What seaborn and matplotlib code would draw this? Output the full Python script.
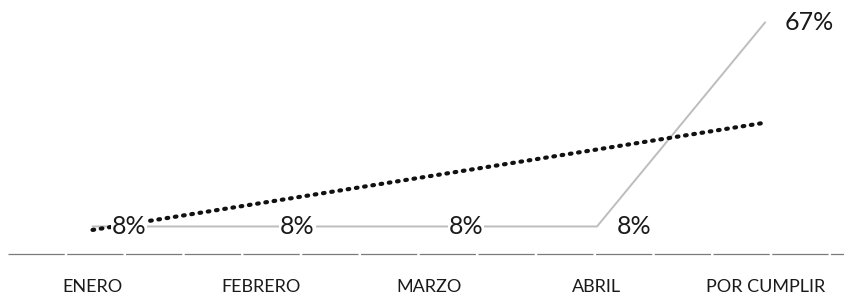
import matplotlib.pyplot as plt
import pandas as pd
import seaborn as sns

# Data
meses = ['ENERO', 'FEBRERO', 'MARZO', 'ABRIL', 'POR CUMPLIR']
avance = [8, 8, 8, 8, 67]
etiquetas = ['8%', '8%', '8%', '8%', '67%']
# dotted trend line, read at the first and last category
tendencia_x = [0, 4]
tendencia_y = [7, 38]

sns.set_theme(style='white')
plt.rcParams['font.family'] = ['Lato', 'DejaVu Sans']

df = pd.DataFrame({'pos': range(len(meses)), 'avance': avance})
df_tend = pd.DataFrame({'pos': tendencia_x, 'valor': tendencia_y})

fig = plt.figure(figsize=(8.45, 2.99), dpi=100)
ax = fig.add_axes([0.01, 0.15, 0.995, 0.81])

# baseline
ax.axhline(0, color='#7a7a7a', lw=0.9, ls=(0, (45, 2)), zorder=1, clip_on=False)

# data line
sns.lineplot(data=df, x='pos', y='avance', ax=ax, color='#bdbdbd', lw=1.4, zorder=2)

# trend line
sns.lineplot(data=df_tend, x='pos', y='valor', ax=ax, color='#111111', lw=3,
             linestyle=(0, (0.4, 1.6)), zorder=3)
ax.lines[-1].set_dash_capstyle('round')

# data labels to the right of each point
for i, (v, t) in enumerate(zip(avance, etiquetas)):
    ax.annotate(t, (i, v), xytext=(14, 0), textcoords='offset points',
                ha='left', va='center', fontsize=18, color='#1a1a1a',
                bbox=dict(facecolor='white', edgecolor='none', pad=0.5), zorder=4)

ax.set_xlim(-0.5, 4.5)
ax.set_ylim(0, 70)
ax.set_xticks(range(len(meses)))
ax.set_xticklabels(meses, fontsize=13, color='#1a1a1a')
ax.tick_params(axis='x', length=0, pad=18)
ax.set_yticks([])
ax.set_xlabel('')
ax.set_ylabel('')
sns.despine(ax=ax, left=True, bottom=True)

fig.savefig('out.png', dpi=100)
